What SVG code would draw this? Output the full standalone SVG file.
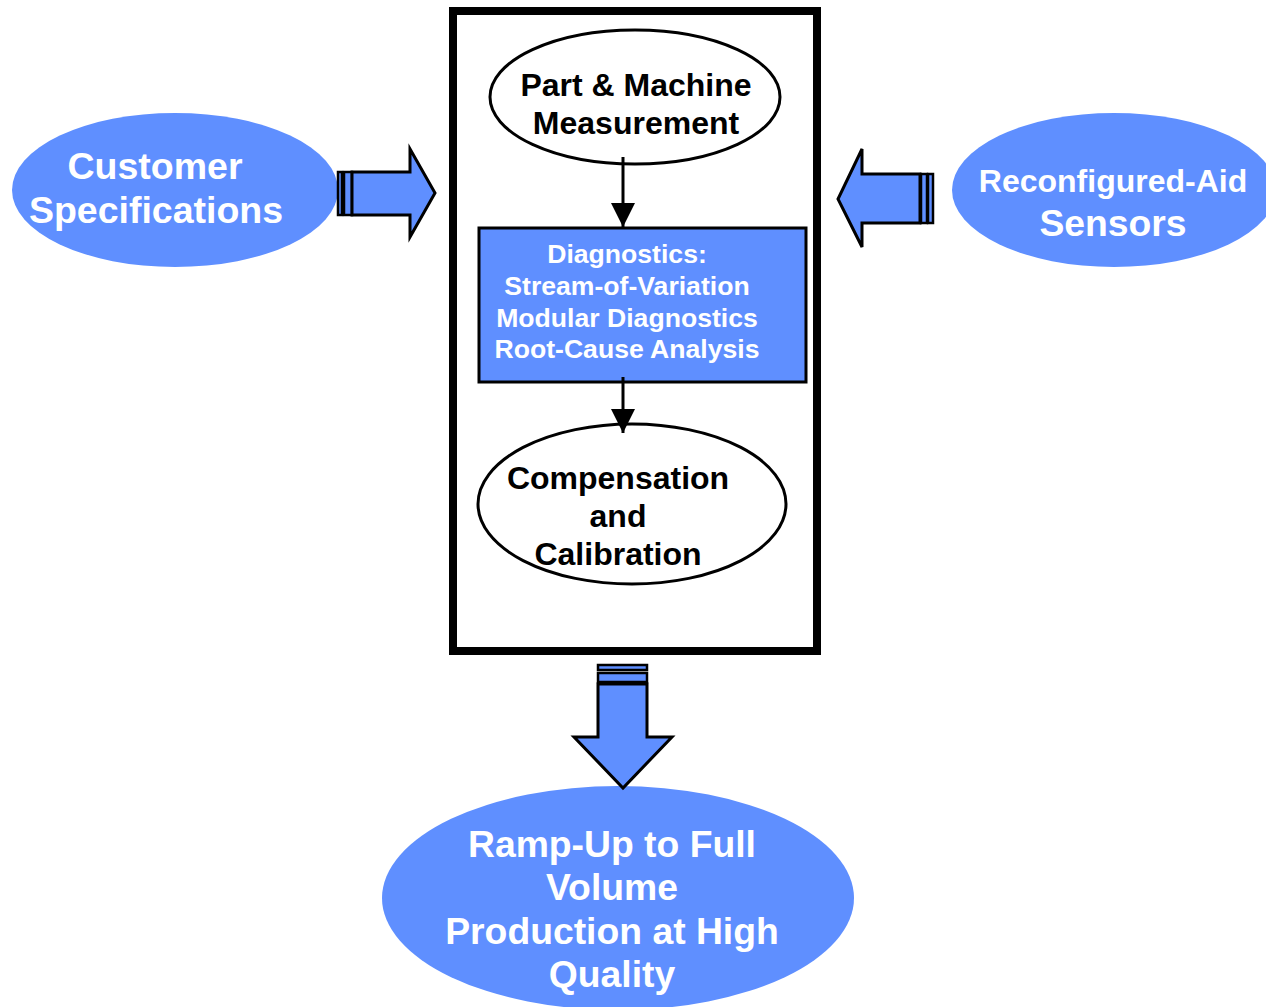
<svg xmlns="http://www.w3.org/2000/svg" width="1266" height="1007" viewBox="0 0 1266 1007">
  <style>
    text { font-family: "Liberation Sans", Arial, sans-serif; font-weight: bold; text-anchor: middle; }
    .white { fill: #ffffff; }
    .black { fill: #000000; }
    .blue { fill: #5f8fff; }
    .outline { fill: #ffffff; stroke: #000000; stroke-width: 3; }
    .fat { fill: #5f8fff; stroke: #000000; stroke-width: 3; stroke-linejoin: miter; }
    .stripe { fill: #5f8fff; stroke: #000000; stroke-width: 2.5; }
    .link { stroke: #000000; stroke-width: 3; fill: none; }
  </style>
  <defs>
    <marker id="head" viewBox="0 0 10 10" refX="10" refY="5" markerWidth="8" markerHeight="9" markerUnits="strokeWidth" orient="auto">
      <path d="M0,0 L10,5 L0,10 Z" fill="#000000"/>
    </marker>
  </defs>
  <rect width="1266" height="1007" fill="#ffffff"/>

  <!-- system boundary -->
  <rect id="system" x="453" y="11" width="364" height="640" fill="#ffffff" stroke="#000000" stroke-width="8"/>

  <g id="customer-specs">
    <ellipse class="blue" cx="175" cy="190" rx="163" ry="77"/>
    <text class="white" font-size="37.5" x="155" y="179">Customer</text>
    <text class="white" font-size="37.5" x="156" y="223">Specifications</text>
  </g>

  <g id="sensors">
    <ellipse class="blue" cx="1114" cy="190" rx="162" ry="77"/>
    <text class="white" font-size="32" x="1113" y="192">Reconfigured-Aid</text>
    <text class="white" font-size="37.3" x="1113" y="236">Sensors</text>
  </g>

  <g id="measurement">
    <ellipse class="outline" cx="635" cy="97" rx="145" ry="67"/>
    <text class="black" font-size="32" x="636" y="96">Part &amp; Machine</text>
    <text class="black" font-size="32" x="636" y="134">Measurement</text>
  </g>

  <g id="diagnostics">
    <rect x="479" y="228" width="327" height="154" fill="#5f8fff" stroke="#000000" stroke-width="3"/>
    <text class="white" font-size="26.6" x="627" y="263">Diagnostics:</text>
    <text class="white" font-size="26.6" x="627" y="295">Stream-of-Variation</text>
    <text class="white" font-size="26.6" x="627" y="327">Modular Diagnostics</text>
    <text class="white" font-size="26.6" x="627" y="358">Root-Cause Analysis</text>
  </g>

  <g id="compensation">
    <ellipse class="outline" cx="632" cy="504" rx="154" ry="80"/>
    <text class="black" font-size="32" x="618" y="489">Compensation</text>
    <text class="black" font-size="32" x="618" y="527">and</text>
    <text class="black" font-size="32" x="618" y="565">Calibration</text>
  </g>

  <g id="ramp-up">
    <ellipse class="blue" cx="618" cy="898" rx="236" ry="112"/>
    <text class="white" font-size="37.3" x="612" y="857">Ramp-Up to Full</text>
    <text class="white" font-size="37.3" x="612" y="900">Volume</text>
    <text class="white" font-size="37.3" x="612" y="944">Production at High</text>
    <text class="white" font-size="37.3" x="612" y="987">Quality</text>
  </g>

  <g id="connectors">
    <line class="link" x1="623" y1="157" x2="623" y2="227" marker-end="url(#head)"/>
    <line class="link" x1="623" y1="377" x2="623" y2="433" marker-end="url(#head)"/>

    <!-- block arrow: specifications into system -->
    <g>
      <rect class="stripe" x="338" y="172" width="4" height="43"/>
      <rect class="stripe" x="344" y="172" width="8" height="43"/>
      <path class="fat" d="M352,172 L410,172 L410,149 L435,193 L410,237 L410,215 L352,215 Z"/>
    </g>
    <!-- block arrow: sensors into system -->
    <g>
      <rect class="stripe" x="928" y="174" width="5" height="49"/>
      <rect class="stripe" x="921" y="174" width="6" height="49"/>
      <path class="fat" d="M920,174 L862,174 L862,149 L838,199 L862,247 L862,223 L920,223 Z"/>
    </g>
    <!-- block arrow: system output -->
    <g>
      <rect class="stripe" x="598" y="665" width="49" height="5"/>
      <rect class="stripe" x="598" y="673" width="49" height="9"/>
      <path class="fat" d="M598,684 L647,684 L647,737 L672,737 L623,788 L574,737 L598,737 Z"/>
    </g>
  </g>
</svg>
